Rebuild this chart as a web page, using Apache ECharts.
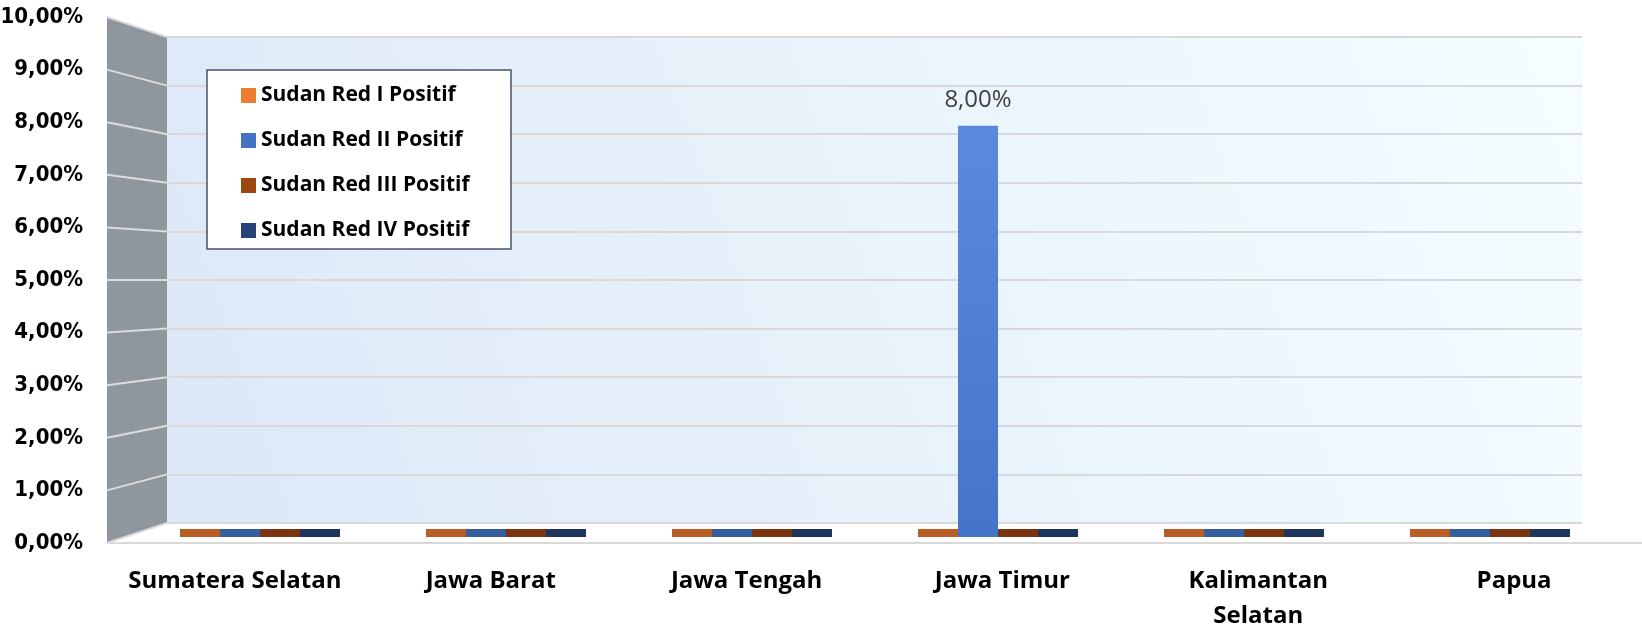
<!DOCTYPE html>
<html>
<head>
<meta charset="utf-8">
<title>Sudan Red</title>
<script src="https://cdn.jsdelivr.net/npm/echarts@6/dist/echarts.min.js"></script>
<style>
  html, body { margin: 0; padding: 0; background: #fff; }
  #main { width: 1642px; height: 629px; }
</style>
</head>
<body>
<div id="main"></div>
<script>
// data
var categories = ['Sumatera Selatan', 'Jawa Barat', 'Jawa Tengah', 'Jawa Timur', 'Kalimantan\nSelatan', 'Papua'];
var seriesNames = ['Sudan Red I Positif', 'Sudan Red II Positif', 'Sudan Red III Positif', 'Sudan Red IV Positif'];
var redI = [0, 0, 0, 0, 0, 0];
var redII = [0, 0, 0, 0.08, 0, 0];
var redIII = [0, 0, 0, 0, 0, 0];
var redIV = [0, 0, 0, 0, 0, 0];
var yTicks = [0, 0.01, 0.02, 0.03, 0.04, 0.05, 0.06, 0.07, 0.08, 0.09, 0.10];

var legendColors = ['#ED7D31', '#4472C4', '#9E480E', '#264478'];
var flatColors = ['#B95F25', '#365F9F', '#7A3510', '#1F355E'];

var chart = echarts.init(document.getElementById('main'));

function pct(v) {
  return (v * 100).toFixed(2).replace('.', ',') + '%';
}

function makeSeries(i, values) {
  return {
    name: seriesNames[i],
    type: 'bar',
    xAxisIndex: 2,
    yAxisIndex: 2,
    data: values,
    barWidth: 40,
    barGap: '0%',
    barMinHeight: 8,
    itemStyle: {
      color: function (p) {
        if (p.value > 0) {
          return new echarts.graphic.LinearGradient(0, 0, 0, 1, [
            { offset: 0, color: i === 1 ? '#5B89DB' : legendColors[i] },
            { offset: 1, color: i === 1 ? '#4674CB' : legendColors[i] }
          ]);
        }
        return flatColors[i];
      }
    },
    label: {
      show: true,
      position: 'top',
      distance: 14,
      color: '#404040',
      fontSize: 24,
      fontFamily: 'Open Sans',
      formatter: function (p) { return p.value > 0 ? pct(p.value) : ''; }
    }
  };
}

var option = {
  animation: false,
  backgroundColor: '#ffffff',
  legend: {
    orient: 'vertical',
    left: 236,
    top: 80,
    itemWidth: 15,
    itemHeight: 15,
    itemGap: 24,
    icon: 'rect',
    z: 10,
    textStyle: { fontFamily: 'Open Sans', fontWeight: 'bold', fontSize: 21, lineHeight: 20, color: '#000' },
    data: seriesNames.map(function (n, i) {
      return { name: n, itemStyle: { color: legendColors[i] } };
    })
  },
  grid: [
    // front edge: labels
    { left: 107, right: 0, top: 17, bottom: 86, outerBoundsMode: 'none' },
    // back wall
    {
      left: 167, right: 60, top: 37, bottom: 106, show: true, borderWidth: 0, outerBoundsMode: 'none',
      backgroundColor: new echarts.graphic.LinearGradient(0, 1, 1, 0, [
        { offset: 0, color: '#DCE8F7' },
        { offset: 1, color: '#F4FDFF' }
      ])
    },
    // bars
    { left: 137, right: 29, top: 23, bottom: 92, outerBoundsMode: 'none' }
  ],
  xAxis: [
    {
      gridIndex: 0, type: 'category', data: categories,
      axisLine: { show: true, lineStyle: { color: '#D9D9D9', width: 2 } },
      axisTick: { show: false },
      axisLabel: {
        interval: 0, margin: 21, color: '#000', fontFamily: 'Open Sans', fontWeight: 'bold',
        fontSize: 24, lineHeight: 35
      }
    },
    { gridIndex: 1, type: 'category', data: categories, show: false },
    { gridIndex: 2, type: 'category', data: categories, show: false }
  ],
  yAxis: [
    {
      gridIndex: 0, type: 'value', min: 0, max: 0.1, interval: 0.01,
      axisLine: { show: false }, axisTick: { show: false }, splitLine: { show: false },
      axisLabel: {
        margin: 24, color: '#000', fontSize: 22, fontWeight: 'bold',
        fontFamily: "'Liberation Sans Narrow', 'DejaVu Sans Condensed', sans-serif",
        formatter: pct
      }
    },
    {
      gridIndex: 1, type: 'value', min: 0, max: 0.1, interval: 0.01,
      axisLine: { show: false }, axisTick: { show: false }, axisLabel: { show: false },
      splitLine: { show: true, lineStyle: { color: '#D9D9D9', width: 2 } }
    },
    { gridIndex: 2, type: 'value', min: 0, max: 0.1, show: false, splitLine: { show: false } }
  ],
  series: [
    makeSeries(0, redI),
    makeSeries(1, redII),
    makeSeries(2, redIII),
    makeSeries(3, redIV)
  ]
};

chart.setOption(option);

// side wall and legend box drawn from the axes' own scales
var xl = 107, xr = 167;
var yFront0 = chart.convertToPixel({ yAxisIndex: 0 }, 0);
var yFrontTop = chart.convertToPixel({ yAxisIndex: 0 }, 0.1);
var yBack0 = chart.convertToPixel({ yAxisIndex: 1 }, 0);
var yBackTop = chart.convertToPixel({ yAxisIndex: 1 }, 0.1);

var elements = [{
  type: 'polygon',
  z: 1,
  shape: { points: [[xl, yFrontTop], [xr, yBackTop], [xr, yBack0], [xl, yFront0]] },
  style: { fill: '#8E969E' }
}];
yTicks.forEach(function (v) {
  elements.push({
    type: 'line',
    z: 2,
    shape: {
      x1: xl, y1: chart.convertToPixel({ yAxisIndex: 0 }, v),
      x2: xr, y2: chart.convertToPixel({ yAxisIndex: 1 }, v)
    },
    style: { stroke: '#DCDCDC', lineWidth: 2 }
  });
});
elements.push({
  type: 'rect',
  z: 5,
  shape: { x: 207, y: 70, width: 304, height: 179 },
  style: { fill: '#ffffff', stroke: '#44546A', lineWidth: 1.5 }
});
chart.setOption({ graphic: elements });
</script>
</body>
</html>
